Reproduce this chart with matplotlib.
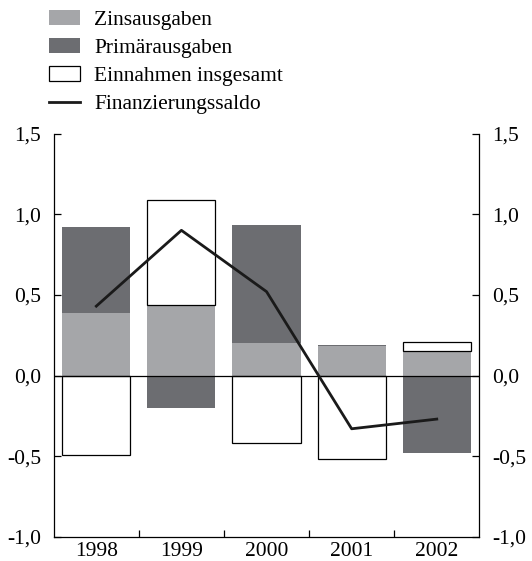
import matplotlib
matplotlib.use("Agg")
import matplotlib.pyplot as plt
from matplotlib.patches import Patch
from matplotlib.lines import Line2D
from matplotlib.ticker import FixedLocator, FuncFormatter
import numpy as np

years = ["1998", "1999", "2000", "2001", "2002"]
zinsausgaben = [0.39, 0.44, 0.20, 0.18, 0.15]
primaerausgaben = [0.53, -0.20, 0.73, 0.01, -0.48]
einnahmen = [-0.49, 0.65, -0.42, -0.52, 0.06]
saldo = [0.43, 0.90, 0.52, -0.33, -0.27]

c_zins = "#a5a6a9"
c_prim = "#6c6d71"

plt.rcParams["font.family"] = ["Liberation Serif", "DejaVu Serif"]
plt.rcParams["font.size"] = 15.5

fig = plt.figure(figsize=(5.32, 5.61), dpi=100)
ax = fig.add_axes([0.101, 0.043, 0.800, 0.719])

x = np.arange(len(years))
w = 0.8

# stack positives upward and negatives downward
pos_base = np.zeros(len(years))
neg_base = np.zeros(len(years))
series = [
    (zinsausgaben, dict(color=c_zins, edgecolor="none")),
    (primaerausgaben, dict(color=c_prim, edgecolor="none")),
    (einnahmen, dict(facecolor="white", edgecolor="black", linewidth=0.9)),
]
for vals, style in series:
    vals = np.asarray(vals, dtype=float)
    base = np.where(vals >= 0, pos_base, neg_base)
    ax.bar(x, vals, width=w, bottom=base, zorder=2, **style)
    pos_base = pos_base + np.where(vals >= 0, vals, 0)
    neg_base = neg_base + np.where(vals < 0, vals, 0)

ax.axhline(0, color="black", linewidth=0.9, zorder=3)
ax.plot(x, saldo, color="#1a1a1a", linewidth=2.0, zorder=4)

ax.set_xlim(-0.5, len(years) - 0.5)
ax.set_ylim(-1.0, 1.5)

ax.spines["top"].set_visible(False)
for s in ["left", "right", "bottom"]:
    ax.spines[s].set_linewidth(0.9)

fmt = FuncFormatter(lambda v, p: f"{v:.1f}".replace(".", ","))
ax.yaxis.set_major_locator(FixedLocator([-1.0, -0.5, 0.0, 0.5, 1.0, 1.5]))
ax.yaxis.set_major_formatter(fmt)
ax.tick_params(axis="y", which="both", direction="in", length=5, width=0.9,
               left=True, right=True, labelleft=True, labelright=True, pad=9)
for lbl in ax.get_yticklabels(which="major"):
    pass

ax.set_xticks(x)
ax.set_xticklabels(years)
ax.xaxis.set_minor_locator(FixedLocator(x[:-1] + 0.5))
ax.tick_params(axis="x", which="major", length=0, pad=4)
ax.tick_params(axis="x", which="minor", direction="in", length=5, width=0.9)

handles = [
    Patch(facecolor=c_zins, edgecolor="none"),
    Patch(facecolor=c_prim, edgecolor="none"),
    Patch(facecolor="white", edgecolor="black", linewidth=0.9),
    Line2D([0], [0], color="#1a1a1a", linewidth=2.0),
]
labels = ["Zinsausgaben", "Primärausgaben", "Einnahmen insgesamt", "Finanzierungssaldo"]
fig.legend(handles, labels, loc="upper left", bbox_to_anchor=(0.076, 0.997),
           frameon=False, handlelength=1.45, handleheight=0.7, handletextpad=0.65,
           labelspacing=0.37, borderaxespad=0)

fig.savefig("out.png", dpi=100)
